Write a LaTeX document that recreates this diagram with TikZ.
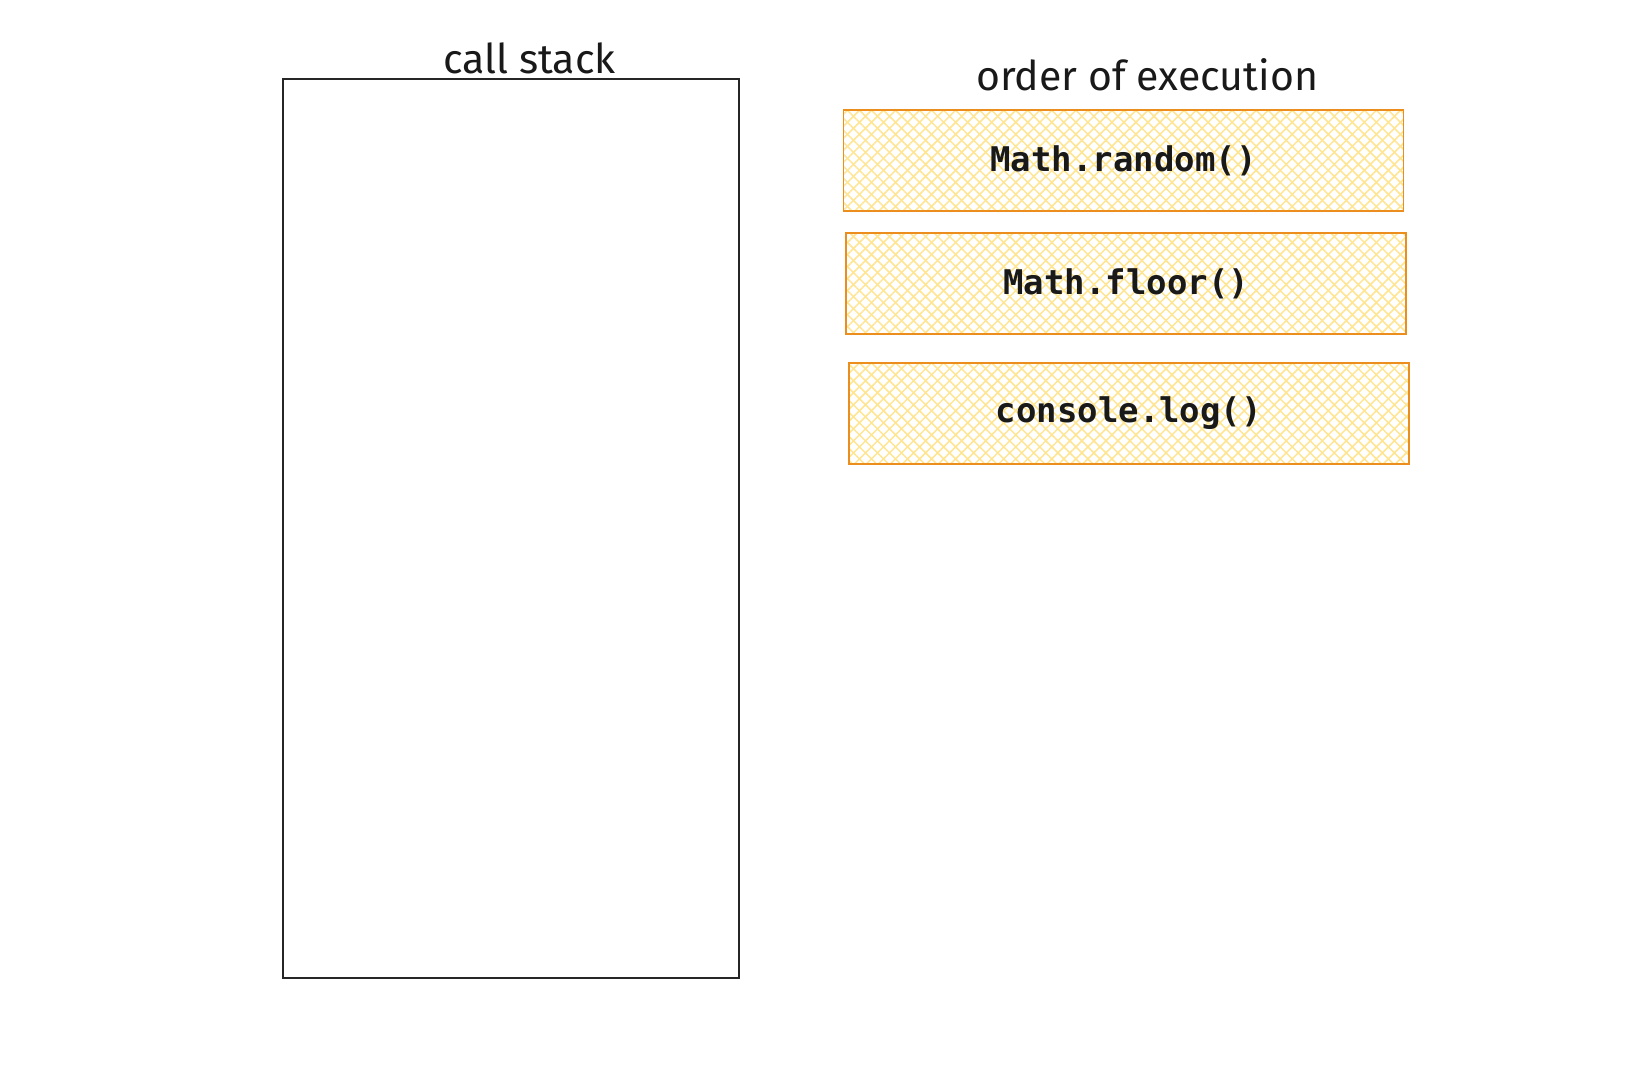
\documentclass[tikz,border=0pt]{standalone}
\usepackage{fontspec}
\setmonofont{DejaVu Sans Mono}
\newfontfamily\handfont{Fira Sans}
\usepackage{xcolor}
\usetikzlibrary{patterns.meta}
\definecolor{boxline}{RGB}{236,142,30}
\definecolor{boxhatch}{RGB}{255,228,145}

\begin{document}
\begin{tikzpicture}[x=1.0486pt,y=-1.0486pt,
	stackbox/.style={draw=black!85,line width=1.6pt,minimum width=456pt,minimum height=899pt,inner sep=0pt},
	callbox/.style={draw=boxline,line width=1.8pt,minimum width=560pt,minimum height=101pt,inner sep=0pt,
		preaction={pattern={Lines[angle=45,distance=8.5pt,line width=1.5pt]},pattern color=boxhatch},
		pattern={Lines[angle=-45,distance=8.5pt,line width=1.5pt]},pattern color=boxhatch,
		font=\ttfamily\bfseries\fontsize{34}{40}\selectfont,text=black!90},
	title/.style={font=\handfont\fontsize{41}{48}\selectfont,text=black!90,inner sep=0pt}]
\useasboundingbox (0,0) rectangle (1564,1028);
\node[stackbox] (stack) at (487.5,504) {};
\node[title,anchor=base] (stacklabel) at (505,70) {call stack};
\node[title,anchor=base] (orderlabel) at (1094,86) {order of execution};
\node[callbox] (random) at (1071.5,153) {Math.random()};
\node[callbox] (floor) at (1074,270.5) {Math.floor()};
\node[callbox] (log) at (1076.5,394) {console.log()};
\end{tikzpicture}
\end{document}
